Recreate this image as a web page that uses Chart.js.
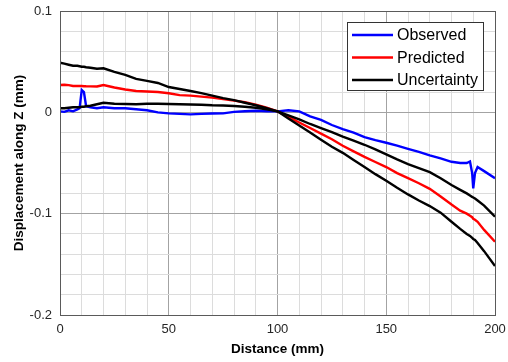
<!DOCTYPE html>
<html>
<head>
<meta charset="utf-8">
<script src="https://cdn.jsdelivr.net/npm/chart.js@4/dist/chart.umd.min.js"></script>
<style>
html,body{margin:0;padding:0;background:#fff;}
canvas{display:block;}
</style>
</head>
<body>
<canvas id="c" width="508" height="362"></canvas>
<script>
// Distance (mm)
const xs = [0, 2, 4, 6, 8, 9, 10, 11, 12, 14, 17, 20, 25, 30, 35, 40, 45, 50, 55, 60, 65, 70, 75, 80, 85, 90, 95, 100,
  105, 110, 115, 120, 125, 130, 135, 140, 145, 150, 155, 160, 165, 170, 175, 180, 184, 187, 188.5, 189.5, 190, 190.8, 192, 195, 200];

const observed = [0.001, 0.0005, 0.002, 0.001, 0.003, 0.004, 0.022, 0.02, 0.006, 0.005, 0.004, 0.005, 0.004, 0.004, 0.003, 0.002, 0.0, -0.001, -0.0015, -0.002, -0.0015, -0.0012, -0.001, 0.0005, 0.001, 0.0015, 0.001, 0.001,
  0.002, 0.001, -0.004, -0.0075, -0.0125, -0.0165, -0.020, -0.0245, -0.0275, -0.030, -0.0328, -0.036, -0.039, -0.0425, -0.0455, -0.0488, -0.050, -0.050, -0.0485, -0.060, -0.075, -0.060, -0.054, -0.058, -0.065];

const predicted = [0.027, 0.0272, 0.0268, 0.026, 0.026, 0.026, 0.026, 0.0258, 0.0257, 0.0256, 0.0255, 0.027, 0.0245, 0.0225, 0.021, 0.0205, 0.020, 0.0188, 0.017, 0.0165, 0.0155, 0.0145, 0.013, 0.0115, 0.010, 0.0075, 0.0045, 0.001,
  -0.0045, -0.010, -0.0155, -0.021, -0.0265, -0.033, -0.0385, -0.044, -0.049, -0.054, -0.060, -0.065, -0.070, -0.0755, -0.083, -0.091, -0.097, -0.100, -0.102, -0.1035, -0.105, -0.106, -0.108, -0.116, -0.1277];

const uncertaintyA = [0.049, 0.048, 0.047, 0.046, 0.046, 0.0455, 0.045, 0.045, 0.0445, 0.044, 0.043, 0.0435, 0.040, 0.037, 0.033, 0.031, 0.029, 0.025, 0.023, 0.021, 0.019, 0.0165, 0.014, 0.012, 0.0095, 0.007, 0.004, 0.001,
  -0.006, -0.013, -0.020, -0.027, -0.034, -0.040, -0.047, -0.054, -0.061, -0.0675, -0.0745, -0.081, -0.087, -0.0925, -0.099, -0.108, -0.115, -0.120, -0.122, -0.124, -0.125, -0.126, -0.129, -0.137, -0.1517];

const uncertaintyB = [0.004, 0.004, 0.0045, 0.005, 0.005, 0.005, 0.0055, 0.0055, 0.006, 0.0065, 0.008, 0.0095, 0.0085, 0.0082, 0.008, 0.0085, 0.0085, 0.0082, 0.008, 0.0078, 0.0075, 0.007, 0.0068, 0.0062, 0.0055, 0.0045, 0.003, 0.001,
  -0.003, -0.007, -0.0115, -0.0155, -0.0195, -0.024, -0.028, -0.032, -0.0365, -0.0415, -0.0465, -0.051, -0.055, -0.059, -0.065, -0.0718, -0.0765, -0.080, -0.082, -0.0835, -0.084, -0.085, -0.087, -0.092, -0.103];

const seriesLabels = ['Observed', 'Predicted', 'Uncertainty'];
const xTickLabels = ['0', '50', '100', '150', '200'];
const yTickLabels = ['0.1', '0', '-0.1', '-0.2'];

const pts = arr => arr.map((v, i) => ({x: xs[i], y: v}));

const legendPlugin = {
  id: 'boxLegend',
  afterDraw(chart) {
    const ctx = chart.ctx;
    const x0 = 347, y0 = 22, w = 136, h = 68;
    ctx.save();
    ctx.fillStyle = '#fff';
    ctx.fillRect(x0, y0, w, h);
    ctx.strokeStyle = '#333';
    ctx.lineWidth = 1;
    ctx.strokeRect(x0 + 0.5, y0 + 0.5, w, h);
    const items = chart.data.datasets.filter(d => !d.hideInLegend);
    items.forEach((d, i) => {
      const yy = 35 + i * 22.5;
      ctx.strokeStyle = d.borderColor;
      ctx.lineWidth = 2.5;
      ctx.beginPath();
      ctx.moveTo(352, yy);
      ctx.lineTo(393, yy);
      ctx.stroke();
      ctx.fillStyle = '#000';
      ctx.font = '16px "Liberation Sans", Arial, sans-serif';
      ctx.textBaseline = 'middle';
      ctx.textAlign = 'left';
      ctx.fillText(d.label, 397, yy + 1);
    });
    ctx.restore();
  }
};

const borderPlugin = {
  id: 'axesBox',
  afterDatasetsDraw(chart) {
    const a = chart.chartArea, ctx = chart.ctx;
    ctx.save();
    ctx.strokeStyle = '#5a5a5a';
    ctx.lineWidth = 1;
    ctx.strokeRect(Math.round(a.left) + 0.5, Math.round(a.top) + 0.5, Math.round(a.right - a.left), Math.round(a.bottom - a.top));
    ctx.restore();
  }
};

const major = '#a3a3a3', minor = '#dcdcdc';

new Chart(document.getElementById('c'), {
  type: 'line',
  data: {
    datasets: [
      {label: seriesLabels[0], data: pts(observed), borderColor: '#0000ff', order: 3},
      {label: seriesLabels[1], data: pts(predicted), borderColor: '#ff0000', order: 2},
      {label: seriesLabels[2], data: pts(uncertaintyA), borderColor: '#000000', order: 1},
      {label: seriesLabels[2], data: pts(uncertaintyB), borderColor: '#000000', order: 1, hideInLegend: true}
    ]
  },
  options: {
    responsive: false,
    animation: false,
    devicePixelRatio: 1,
    layout: {padding: {top: 11, right: 13, left: 0, bottom: 0}},
    elements: {
      point: {radius: 0},
      line: {borderWidth: 2.4, tension: 0, fill: false}
    },
    plugins: {legend: {display: false}, tooltip: {enabled: false}},
    scales: {
      x: {
        type: 'linear', min: 0, max: 200,
        afterFit(s) { s.height = 47; s.paddingLeft = 0; s.paddingRight = 0; },
        ticks: {
          stepSize: 10, autoSkip: false, maxRotation: 0, padding: 7,
          color: '#262626',
          font: {family: '"Liberation Sans", Arial, sans-serif', size: 13},
          callback: v => (Math.round(v) % 50 === 0 ? xTickLabels[Math.round(v) / 50] : '')
        },
        grid: {
          drawTicks: false,
          color: c => (Math.round(c.tick.value) % 50 === 0 ? major : minor)
        },
        border: {display: false},
        title: {
          display: true, text: 'Distance (mm)', color: '#000',
          font: {family: '"Liberation Sans", Arial, sans-serif', size: 13.5, weight: 'bold'},
          padding: {top: 0, bottom: 5}
        }
      },
      y: {
        type: 'linear', min: -0.2, max: 0.1,
        afterFit(s) { s.width = 60; s.paddingTop = 0; s.paddingBottom = 0; },
        ticks: {
          stepSize: 0.02, autoSkip: false, padding: 8,
          color: '#262626',
          font: {family: '"Liberation Sans", Arial, sans-serif', size: 13},
          callback: v => {
            const r = Math.round(v * 100);
            return r % 10 === 0 ? yTickLabels[(10 - r) / 10] : '';
          }
        },
        grid: {
          drawTicks: false,
          color: c => (Math.round(c.tick.value * 100) % 10 === 0 ? major : minor)
        },
        border: {display: false},
        title: {
          display: true, text: 'Displacement along Z (mm)', color: '#000',
          font: {family: '"Liberation Sans", Arial, sans-serif', size: 13.5, weight: 'bold'},
          padding: {top: 11, bottom: 0}
        }
      }
    }
  },
  plugins: [borderPlugin, legendPlugin]
});
</script>
</body>
</html>
